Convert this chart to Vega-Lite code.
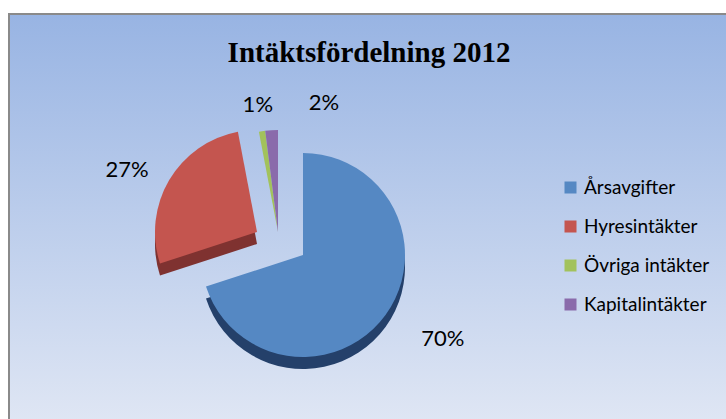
{
  "$schema": "https://vega.github.io/schema/vega-lite/v6.json",
  "width": 726,
  "height": 419,
  "autosize": {"type": "fit", "contains": "padding"},
  "padding": {"left": 8, "top": 13, "right": -4, "bottom": -4},
  "background": "white",
  "title": {
    "text": "Intäktsfördelning 2012",
    "font": "Liberation Serif",
    "fontSize": 29,
    "fontWeight": "bold",
    "color": "black",
    "anchor": "middle",
    "baseline": "alphabetic",
    "offset": -78
  },
  "config": {"view": {"stroke": null}},
  "data": {
    "values": [
      {"k": "Årsavgifter", "v": 70, "label": "70%"},
      {"k": "Hyresintäkter", "v": 27, "label": "27%"},
      {"k": "Övriga intäkter", "v": 1, "label": "1%"},
      {"k": "Kapitalintäkter", "v": 2, "label": "2%"}
    ]
  },
  "transform": [
    {"stack": "v", "groupby": [], "as": ["v0", "v1"]},
    {"calculate": "(datum.v0 + datum.v1) / 2", "as": "vm"}
  ],
  "layer": [
    {
      "data": {"values": [{"panel": "bakgrund"}]},
      "mark": {
        "type": "rect",
        "color": {
          "gradient": "linear",
          "x1": 0, "y1": 0, "x2": 0, "y2": 1,
          "stops": [
            {"offset": 0, "color": "#98b4e3"},
            {"offset": 1, "color": "#dfe6f4"}
          ]
        },
        "stroke": "#8a8a8a",
        "strokeWidth": 2
      },
      "encoding": {}
    },
    {
      "transform": [{"filter": "datum.k === 'Årsavgifter'"}],
      "mark": {"type": "arc", "outerRadius": 102, "xOffset": -66, "yOffset": 49, "color": "#24406a"},
      "encoding": {
        "theta": {"field": "v0", "type": "quantitative", "stack": null, "scale": {"domain": [0, 100]}},
        "theta2": {"field": "v1"}
      }
    },
    {
      "transform": [{"filter": "datum.k === 'Hyresintäkter'"}],
      "mark": {"type": "arc", "outerRadius": 102, "xOffset": -112, "yOffset": 26, "color": "#7f3230"},
      "encoding": {
        "theta": {"field": "v0", "type": "quantitative", "stack": null},
        "theta2": {"field": "v1"}
      }
    },
    {
      "transform": [{"filter": "datum.k === 'Årsavgifter'"}],
      "mark": {"type": "arc", "outerRadius": 102, "xOffset": -66, "yOffset": 37},
      "encoding": {
        "theta": {"field": "v0", "type": "quantitative", "stack": null},
        "theta2": {"field": "v1"},
        "color": {
          "field": "k",
          "type": "nominal",
          "scale": {
            "domain": ["Årsavgifter", "Hyresintäkter", "Övriga intäkter", "Kapitalintäkter"],
            "range": ["#5588c3", "#c4554f", "#a2c25c", "#8a6bab"]
          },
          "legend": {
            "title": null,
            "orient": "none",
            "legendX": 552,
            "legendY": 164,
            "padding": 0,
            "symbolType": "square",
            "symbolSize": 144,
            "symbolStrokeWidth": 0,
            "labelFont": "Lato",
            "labelFontSize": 19,
            "labelColor": "black",
            "labelOffset": 4,
            "rowPadding": 19,
            "values": ["Årsavgifter", "Hyresintäkter", "Övriga intäkter", "Kapitalintäkter"]
          }
        }
      }
    },
    {
      "transform": [{"filter": "datum.k === 'Hyresintäkter'"}],
      "mark": {"type": "arc", "outerRadius": 102, "xOffset": -112, "yOffset": 14},
      "encoding": {
        "theta": {"field": "v0", "type": "quantitative", "stack": null},
        "theta2": {"field": "v1"},
        "color": {"field": "k", "type": "nominal"}
      }
    },
    {
      "transform": [{"filter": "datum.k === 'Övriga intäkter' || datum.k === 'Kapitalintäkter'"}],
      "mark": {"type": "arc", "outerRadius": 102, "xOffset": -91, "yOffset": 14},
      "encoding": {
        "theta": {"field": "v0", "type": "quantitative", "stack": null},
        "theta2": {"field": "v1"},
        "color": {"field": "k", "type": "nominal"}
      }
    },
    {
      "transform": [{"filter": "datum.k === 'Årsavgifter'"}],
      "mark": {"type": "text", "radius": 163, "xOffset": -66, "yOffset": 37, "dx": 8, "dy": -12, "font": "Lato", "fontSize": 22, "color": "black", "align": "center", "baseline": "middle"},
      "encoding": {
        "theta": {"field": "vm", "type": "quantitative"},
        "text": {"field": "label"}
      }
    },
    {
      "transform": [{"filter": "datum.k === 'Hyresintäkter'"}],
      "mark": {"type": "text", "radius": 144, "xOffset": -112, "yOffset": 14, "dx": -6, "dy": 11, "font": "Lato", "fontSize": 22, "color": "black", "align": "center", "baseline": "middle"},
      "encoding": {
        "theta": {"field": "vm", "type": "quantitative"},
        "text": {"field": "label"}
      }
    },
    {
      "transform": [{"filter": "datum.k === 'Övriga intäkter'"}],
      "mark": {"type": "text", "radius": 129, "xOffset": -91, "yOffset": 14, "font": "Lato", "fontSize": 22, "color": "black", "align": "center", "baseline": "middle"},
      "encoding": {
        "theta": {"field": "vm", "type": "quantitative"},
        "text": {"field": "label"}
      }
    },
    {
      "transform": [{"filter": "datum.k === 'Kapitalintäkter'"}],
      "mark": {"type": "text", "radius": 129, "xOffset": -91, "yOffset": 14, "dx": 54, "font": "Lato", "fontSize": 22, "color": "black", "align": "center", "baseline": "middle"},
      "encoding": {
        "theta": {"field": "vm", "type": "quantitative"},
        "text": {"field": "label"}
      }
    }
  ]
}
